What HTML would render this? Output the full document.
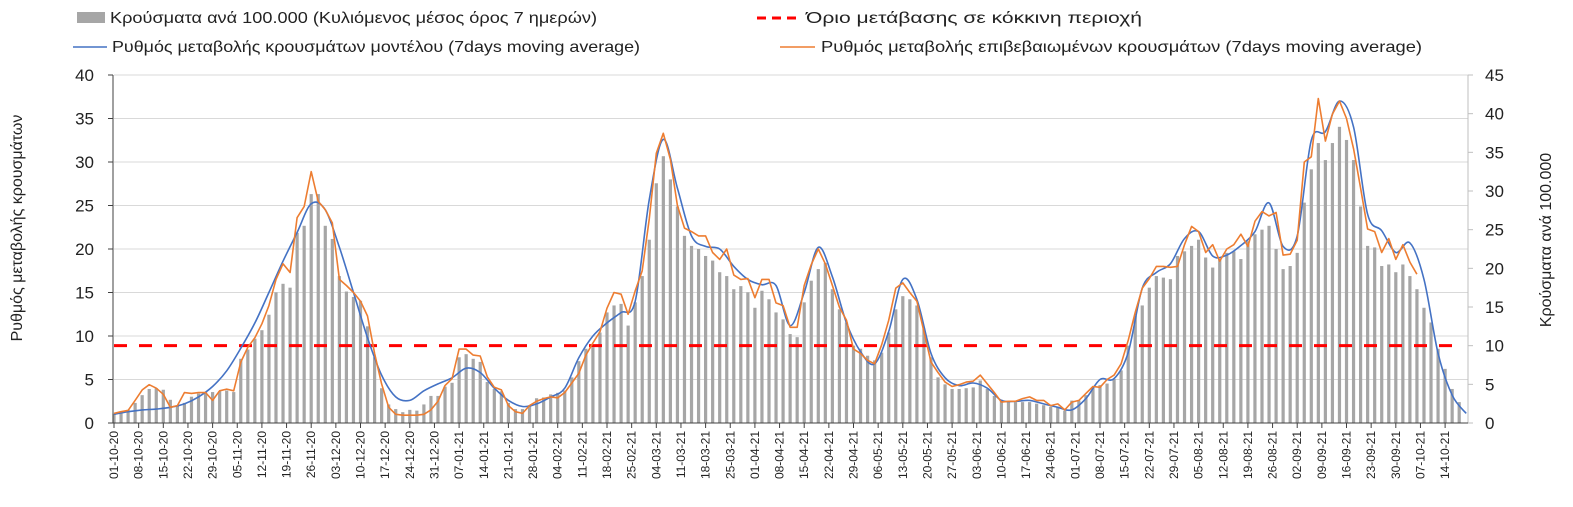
<!DOCTYPE html>
<html><head><meta charset="utf-8"><style>
html,body{margin:0;padding:0;background:#fff;}
svg{display:block;font-family:"Liberation Sans","DejaVu Sans",sans-serif;}
</style></head><body>
<svg id="chart" width="1573" height="507" viewBox="0 0 1573 507" xmlns="http://www.w3.org/2000/svg">
<g>
 <g><rect x="77" y="12" width="28" height="11" fill="#a6a6a6"/><text x="110" y="23" font-size="16" fill="#222" textLength="487" lengthAdjust="spacingAndGlyphs">Κρούσματα ανά 100.000 (Κυλιόμενος μέσος όρος 7 ημερών)</text></g>
 <g><line x1="757" y1="18" x2="800" y2="18" stroke="#ff0000" stroke-width="3" stroke-dasharray="9,6"/><text x="806" y="23" font-size="16" fill="#222" textLength="336" lengthAdjust="spacingAndGlyphs">Όριο μετάβασης σε κόκκινη περιοχή</text></g>
 <g><line x1="73" y1="47" x2="107" y2="47" stroke="#4472c4" stroke-width="1.5"/><text x="112" y="52" font-size="16" fill="#222" textLength="528" lengthAdjust="spacingAndGlyphs">Ρυθμός μεταβολής κρουσμάτων μοντέλου (7days moving average)</text></g>
 <g><line x1="780" y1="47" x2="815" y2="47" stroke="#ed7d31" stroke-width="1.5"/><text x="821" y="52" font-size="16" fill="#222" textLength="601" lengthAdjust="spacingAndGlyphs">Ρυθμός μεταβολής επιβεβαιωμένων κρουσμάτων (7days moving average)</text></g>
</g>
<text transform="translate(22,228) rotate(-90)" text-anchor="middle" font-size="16" fill="#222">Ρυθμός μεταβολής κρουσμάτων</text>
<text transform="translate(1551,240) rotate(-90)" text-anchor="middle" font-size="16" fill="#222">Κρούσματα ανά 100.000</text>
<g id="grid"></g><g id="bars"></g><g id="thr"></g><g id="lines"></g><g id="axes"></g>
</svg>
<script>
const leftTicks=[0,5,10,15,20,25,30,35,40];
const rightTicks=[0,5,10,15,20,25,30,35,40,45];
const threshold=10;
const dateLabels=["01-10-20","08-10-20","15-10-20","22-10-20","29-10-20","05-11-20","12-11-20","19-11-20","26-11-20","03-12-20","10-12-20","17-12-20","24-12-20","31-12-20","07-01-21","14-01-21","21-01-21","28-01-21","04-02-21","11-02-21","18-02-21","25-02-21","04-03-21","11-03-21","18-03-21","25-03-21","01-04-21","08-04-21","15-04-21","22-04-21","29-04-21","06-05-21","13-05-21","20-05-21","27-05-21","03-06-21","10-06-21","17-06-21","24-06-21","01-07-21","08-07-21","15-07-21","22-07-21","29-07-21","05-08-21","12-08-21","19-08-21","26-08-21","02-09-21","09-09-21","16-09-21","23-09-21","30-09-21","07-10-21","14-10-21"];
// bars: every 2 days from day 0
const casesPer100k=[1.2,1.4,1.7,2.6,3.6,4.4,4.5,4.3,3.0,2.2,2.6,3.4,3.8,4.0,4.0,4.1,4.2,4.0,8.3,9.5,10.9,12.0,14.0,16.9,18.0,17.5,24.6,25.5,29.6,29.6,25.5,23.8,19.0,17.0,16.3,15.8,12.5,8.5,4.5,2.4,1.8,1.4,1.7,1.6,2.4,3.5,3.5,4.7,5.2,8.5,8.9,8.3,7.9,5.3,4.4,4.1,2.6,1.8,1.8,2.3,3.2,3.3,3.7,3.9,4.2,5.9,8.0,9.6,9.8,11.7,14.3,15.2,15.4,12.6,15.6,19.0,23.7,31.0,34.5,31.5,28.0,24.2,22.9,22.5,21.6,21.0,19.5,19.0,17.3,17.7,16.9,14.9,17.1,16.0,14.3,13.4,11.5,11.1,15.6,18.4,19.9,20.7,17.3,14.7,13.0,10.0,9.6,8.7,8.1,9.1,11.7,14.7,16.4,16.0,15.2,12.2,8.5,5.9,5.0,4.4,4.4,4.5,4.6,5.5,4.4,3.5,3.0,2.7,2.7,2.7,2.7,2.5,2.3,2.1,2.1,1.6,2.9,2.9,3.6,4.6,4.9,5.1,5.7,6.8,10.0,13.9,15.2,17.5,19.0,18.8,18.6,21.6,22.2,22.9,23.7,21.4,20.1,21.2,22.0,22.2,21.2,23.5,24.4,25.0,25.5,22.5,19.9,20.3,22.0,28.5,32.8,36.2,34.0,36.2,38.3,36.6,34.0,28.0,22.9,22.7,20.3,20.5,19.5,20.5,19.0,17.3,14.9,13.0,9.6,7.0,4.4,2.7];
// orange: every 2 days from day 0
const confirmedRate=[1.1,1.3,1.45,2.6,3.8,4.4,4.0,3.3,1.8,2.0,3.5,3.4,3.5,3.5,2.6,3.7,3.9,3.7,7.0,8.7,9.8,11.4,13.5,16.5,18.3,17.3,23.6,24.9,28.9,25.5,24.5,23.0,16.5,15.8,15.0,14.0,12.3,8.0,4.5,1.8,1.0,0.9,0.9,0.9,1.0,1.5,2.5,4.3,5.1,8.5,8.5,7.8,7.7,5.3,4.1,3.8,2.0,1.3,1.1,2.0,2.5,2.8,3.0,2.9,3.5,4.6,5.7,7.8,9.2,10.5,13.2,15.0,14.8,12.5,15.2,17.5,23.5,31.0,33.3,30.3,25.0,22.4,22.0,21.5,21.5,19.6,18.8,20.0,17.0,16.5,16.6,14.4,16.5,16.5,13.8,13.5,11.0,11.0,15.8,18.2,20.0,18.3,15.8,13.3,11.8,8.5,8.0,7.2,6.8,9.0,11.8,15.5,16.1,15.0,14.0,10.5,7.0,5.8,4.7,4.2,4.4,4.7,4.8,5.5,4.5,3.5,2.4,2.5,2.5,2.8,3.0,2.6,2.6,2.0,2.2,1.5,2.4,2.6,3.4,4.2,4.1,5.0,5.5,6.8,9.5,12.7,15.5,16.6,18.0,18.0,17.9,18.0,20.5,22.6,22.0,19.6,20.5,18.6,20.0,20.5,21.7,20.3,23.2,24.3,23.8,24.2,19.3,19.4,21.0,30.0,30.6,37.3,32.4,35.5,37.0,35.0,31.5,27.0,22.3,22.0,19.6,21.2,18.8,20.5,18.5,17.1];
// blue: every 4 days from day 0
const modelRate=[1.0,1.3,1.5,1.6,1.8,2.2,3.0,4.2,6.0,8.6,11.5,15.0,18.6,21.9,25.2,24.5,20.2,15.0,9.8,5.5,3.0,2.6,3.7,4.5,5.2,6.3,5.8,4.0,2.6,1.9,2.2,3.0,4.0,7.5,10.0,11.5,12.7,14.0,25.7,32.6,27.0,21.5,20.3,20.0,18.0,16.5,15.9,15.8,11.2,15.0,20.2,16.8,11.5,8.2,6.8,10.5,16.5,14.2,8.0,5.2,4.3,4.6,4.0,2.6,2.5,2.6,2.2,1.8,1.5,2.8,5.0,5.1,8.1,15.5,17.3,18.3,21.2,22.0,19.2,19.3,20.4,22.0,25.3,20.3,21.5,32.5,33.5,37.0,34.0,24.0,22.1,19.6,20.7,16.5,8.0,3.2,1.1];

const NS="http://www.w3.org/2000/svg";
const X0=114,X1=1468,Y0=423,Y1=75,DAYS=384.5;
const xDay=d=>X0+d*(X1-X0)/DAYS;
const yL=v=>Y0-v*(Y0-Y1)/40;
const yR=v=>Y0-v*(Y0-Y1)/45;
function mk(tag,attrs,parent){const e=document.createElementNS(NS,tag);for(const k in attrs)e.setAttribute(k,attrs[k]);document.getElementById(parent).appendChild(e);return e;}

leftTicks.forEach(v=>{
 if(v>0){const g=mk('line',{x1:X0,x2:X1,y1:yL(v),y2:yL(v),stroke:'#d9d9d9','stroke-width':1},'grid');
 
 }
 const t=mk('text',{x:94,y:yL(v)+6,'text-anchor':'end','font-size':17,fill:'#222'},'axes');t.textContent=v;
 
 
});
rightTicks.forEach(v=>{
 const t=mk('text',{x:1485,y:yR(v)+6,'text-anchor':'start','font-size':17,fill:'#222'},'axes');t.textContent=v;
 
 
 const k=mk('line',{x1:X1,x2:X1+5,y1:yR(v),y2:yR(v),stroke:'#bfbfbf'},'axes');
 
 
});
casesPer100k.forEach((v,i)=>{
 const x=xDay(i*2);
 const r=mk('rect',{x:x-1.6,y:yR(v),width:3.2,height:Y0-yR(v),fill:'#a6a6a6'},'bars');
 
 
});
const th=mk('line',{x1:X0,x2:X1-10,y1:yR(threshold),y2:yR(threshold),stroke:'#ff0000','stroke-width':3,'stroke-dasharray':'13,12'},'thr');


function linePath(arr,step){return arr.map((v,i)=>(i?'L':'M')+xDay(i*step).toFixed(1)+','+yL(v).toFixed(1)).join('');}
function smoothPath(arr,step){
 const p=arr.map((v,i)=>[xDay(i*step),yL(v)]);let d='M'+p[0][0]+','+p[0][1];
 for(let i=0;i<p.length-1;i++){const a=p[Math.max(0,i-1)],b=p[i],c=p[i+1],e=p[Math.min(p.length-1,i+2)];
  d+='C'+(b[0]+(c[0]-a[0])/6).toFixed(1)+','+(b[1]+(c[1]-a[1])/6).toFixed(1)+' '+(c[0]-(e[0]-b[0])/6).toFixed(1)+','+(c[1]-(e[1]-b[1])/6).toFixed(1)+' '+c[0].toFixed(1)+','+c[1].toFixed(1);}
 return d;}
const bl=mk('path',{d:smoothPath(modelRate,4),fill:'none',stroke:'#4472c4','stroke-width':1.6},'lines');


const ol=mk('path',{d:linePath(confirmedRate,2),fill:'none',stroke:'#ed7d31','stroke-width':1.6,'stroke-linejoin':'round'},'lines');



const la=mk('line',{x1:X0-1,x2:X0-1,y1:Y1,y2:Y0,stroke:'#404040'},'axes');


const ra=mk('line',{x1:X1,x2:X1,y1:Y1,y2:Y0,stroke:'#bfbfbf'},'axes');


const ba=mk('line',{x1:X0-1,x2:X1,y1:Y0,y2:Y0,stroke:'#404040'},'axes');


leftTicks.forEach(v=>{const k=mk('line',{x1:X0-6,x2:X0-1,y1:yL(v),y2:yL(v),stroke:'#404040'},'axes');
 
 });
dateLabels.forEach((s,i)=>{
 const x=xDay(i*7);
 const k=mk('line',{x1:x,x2:x,y1:Y0,y2:Y0+5,stroke:'#404040'},'axes');
 
 
 const t=mk('text',{transform:'translate('+(x+4)+','+(Y0+8)+') rotate(-90)','text-anchor':'end','font-size':12,fill:'#222'},'axes');
 t.textContent=s;
 
 
});
</script>
</body></html>
